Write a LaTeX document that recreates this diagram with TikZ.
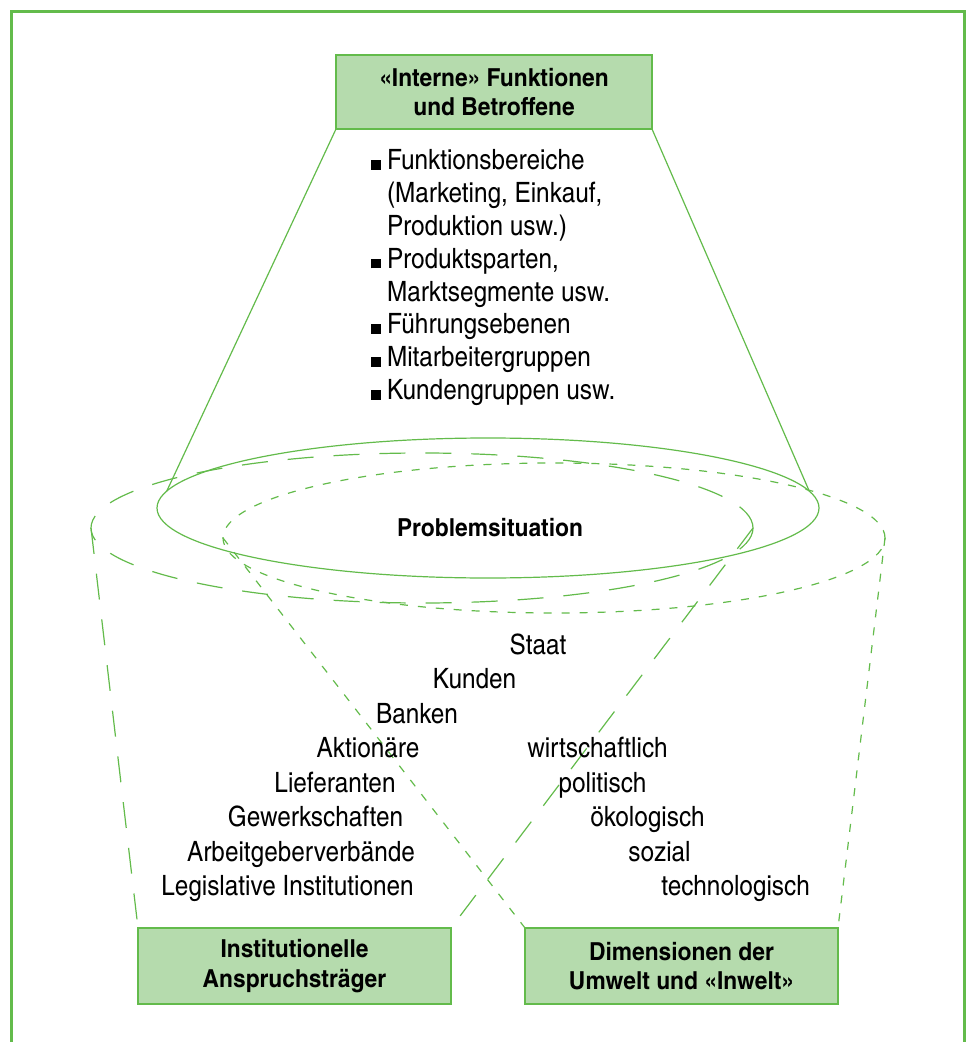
\documentclass[tikz,border=0pt]{standalone}
\usepackage{fontspec}
\setmainfont{texgyreheroscn}[Extension=.otf,UprightFont=*-regular,BoldFont=*-bold,
  UprightFeatures={FakeStretch=1.06},BoldFeatures={FakeStretch=1.12}]
\usetikzlibrary{shapes.geometric}
\definecolor{grn}{RGB}{99,187,75}
\definecolor{boxgrn}{RGB}{181,219,173}
\newcommand{\bul}{\rule{4.8pt}{4.8pt}}
\tikzset{
  frame/.style={grn,line width=1.5pt},
  gbox/.style={draw=grn,fill=boxgrn,line width=1pt,minimum width=156.5pt,minimum height=38pt,
    inner sep=0pt,outer sep=0pt,align=center,font=\bfseries\fontsize{12.4}{14.8}\selectfont},
  ell/.style={ellipse,draw=grn,line width=0.6pt,minimum width=331pt,inner sep=0pt,outer sep=0pt},
  solidln/.style={grn,line width=0.6pt},
  longdash/.style={grn,line width=0.6pt,dash pattern=on 13pt off 10pt},
  shortdash/.style={grn,line width=0.6pt,dash pattern=on 4pt off 5pt},
  lbl/.style={font=\fontsize{14}{16.4}\selectfont,inner sep=0pt,anchor=base},
}
\begin{document}
\begin{tikzpicture}[x=0.5pt,y=-0.5pt]
  \useasboundingbox (0,0) rectangle (966,1042);
  \draw[frame] (11.3,1042) -- (11.3,11.3) -- (964.5,11.3) -- (964.5,1042);
  % boxes
  \node[gbox,minimum width=158pt,minimum height=37pt] (intern) at (494,92) {«Interne» Funktionen\\und Betroffene};
  \node[gbox] (inst) at (294.5,966) {Institutionelle\\Anspruchsträger};
  \node[gbox] (dims) at (681.5,966) {Dimensionen der\\Umwelt und «Inwelt»};
  % ellipses
  \node[ell,minimum height=70pt] (ellS) at (488,508) {};
  \node[ell,longdash,minimum height=75pt] (ellL) at (422,528) {};
  \node[ell,shortdash,minimum height=75pt] (ellR) at (554,538) {};
  \node[lbl,font=\bfseries\fontsize{12.4}{14.8}\selectfont] (probl) at (490,536) {Problemsituation};
  % funnels
  \draw[solidln] (intern.south west) -- (ellS.177);
  \draw[solidln] (intern.south east) -- (ellS.3);
  \draw[longdash] (ellL.west) -- (inst.north west);
  \draw[longdash] (ellL.east) -- (inst.north east);
  \draw[shortdash] (ellR.west) -- (dims.north west);
  \draw[shortdash] (ellR.east) -- (dims.north east);
  % internal list
  \node[lbl,anchor=base west] (list) at (371,170) {\begin{tabular}[t]{@{}l@{\hspace{3pt}}l@{}}
    \bul & Funktionsbereiche\\
         & (Marketing, Einkauf,\\
         & Produktion usw.)\\
    \bul & Produktsparten,\\
         & Marktsegmente usw.\\
    \bul & Führungsebenen\\
    \bul & Mitarbeitergruppen\\
    \bul & Kundengruppen usw.
  \end{tabular}};
  % stakeholders
  \foreach \txt/\x/\y [count=\i] in {Staat/538/654,Kunden/474.5/688.5,Banken/417/723,
      Aktionäre/368/757.5,Lieferanten/335/792,Gewerkschaften/315.5/826.5,
      Arbeitgeberverbände/301/861,Legislative Institutionen/287.5/895.5}
    \node[lbl] (st\i) at (\x,\y) {\txt};
  % dimensions
  \foreach \txt/\x/\y [count=\i] in {wirtschaftlich/597.5/757.5,politisch/602.5/792,
      ökologisch/647.5/826.5,sozial/659.5/861,technologisch/735.5/895.5}
    \node[lbl] (dim\i) at (\x,\y) {\txt};
\end{tikzpicture}
\end{document}
